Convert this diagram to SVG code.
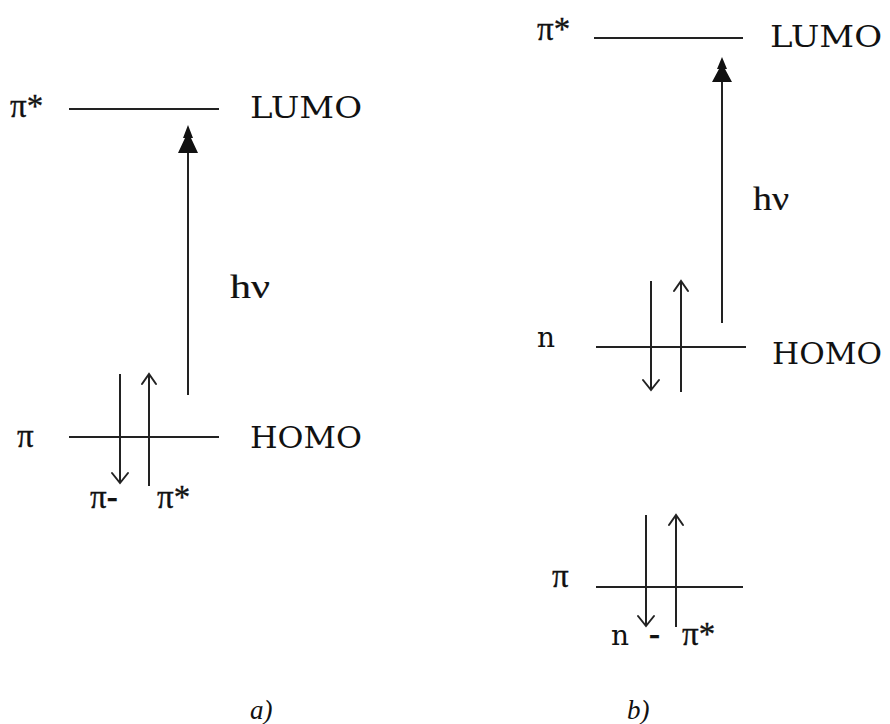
<svg xmlns="http://www.w3.org/2000/svg" width="890" height="724" viewBox="0 0 890 724">
<style>
text{font-family:"DejaVu Serif","Liberation Serif",serif;fill:#111}
.lbl{font-size:30px}
.sym{font-family:"Liberation Serif","DejaVu Serif",serif;font-size:33px;stroke:#111;stroke-width:0.3}
.nn{font-size:28px}
.hv{font-family:"Liberation Serif","DejaVu Serif",serif;font-size:34px;stroke:#111;stroke-width:0.2}
.cap{font-family:"Liberation Serif",serif;font-size:27px;font-style:italic}
.lvl{stroke:#222;stroke-width:2;fill:none}
.ar{stroke:#222;stroke-width:2;fill:none}
.oh{stroke:#222;stroke-width:2;fill:none;stroke-linecap:round;stroke-linejoin:miter}
.fh{fill:#111;stroke:none}
</style>
<rect width="890" height="724" fill="#fff"/>
<!-- Panel a -->
<g id="a-lumo">
<line class="lvl" x1="69" y1="109" x2="219" y2="109"/>
<text class="sym" x="10" y="117">π*</text>
<text class="lbl" x="250" y="118" textLength="112" lengthAdjust="spacingAndGlyphs">LUMO</text>
</g>
<g id="a-homo">
<line class="lvl" x1="69" y1="437" x2="219" y2="437"/>
<text class="sym" x="17" y="447">π</text>
<text class="lbl" x="250" y="448" textLength="112" lengthAdjust="spacingAndGlyphs">HOMO</text>
</g>
<g id="a-labels">
<text class="sym" x="90" y="508">π<tspan font-weight="bold">-</tspan></text>
<text class="sym" x="157" y="508">π*</text>
<text class="hv" x="230" y="298" textLength="40" lengthAdjust="spacingAndGlyphs">hν</text>
</g>
<!-- Panel b -->
<g id="b-lumo">
<line class="lvl" x1="594" y1="38" x2="743" y2="38"/>
<text class="sym" x="537" y="40">π*</text>
<text class="lbl" x="770" y="47" textLength="112" lengthAdjust="spacingAndGlyphs">LUMO</text>
</g>
<g id="b-homo">
<line class="lvl" x1="596" y1="347" x2="746" y2="347"/>
<text class="nn" x="537" y="347">n</text>
<text class="lbl" x="772" y="364" textLength="110" lengthAdjust="spacingAndGlyphs">HOMO</text>
</g>
<g id="b-pi">
<line class="lvl" x1="596" y1="587" x2="743" y2="587"/>
<text class="sym" x="552" y="587">π</text>
</g>
<g id="b-labels">
<text class="nn" x="611" y="645">n</text>
<text class="sym" x="649" y="645" font-weight="bold">-</text>
<text class="sym" x="682" y="645">π*</text>
<text class="hv" x="753" y="210" textLength="36" lengthAdjust="spacingAndGlyphs">hν</text>
</g>
<g id="captions">
<text class="cap" x="250" y="719">a)</text>
<text class="cap" x="627" y="719">b)</text>
</g>
<g id="connectors">
<!-- a: excitation arrow -->
<line class="ar" x1="188" y1="395" x2="188" y2="150"/>
<polygon class="fh" points="188,125 183,138 185,138 178,153 198,153 191,138 193,138"/>
<!-- a: spin arrows -->
<line class="ar" x1="120" y1="374" x2="120" y2="482"/>
<polyline class="oh" points="112,473 120,483 128,473"/>
<line class="ar" x1="149" y1="486" x2="149" y2="375"/>
<polyline class="oh" points="142,384 149,374 156,384"/>
<!-- b: excitation arrow -->
<line class="ar" x1="722" y1="323" x2="722" y2="78"/>
<polygon class="fh" points="722,57 717,69 719,69 712,82 732,82 725,69 727,69"/>
<!-- b: HOMO spin arrows -->
<line class="ar" x1="651" y1="281" x2="651" y2="389"/>
<polyline class="oh" points="643,380 651,390 659,380"/>
<line class="ar" x1="681" y1="392" x2="681" y2="282"/>
<polyline class="oh" points="674,291 681,281 688,291"/>
<!-- b: pi spin arrows -->
<line class="ar" x1="646" y1="515" x2="646" y2="625"/>
<polyline class="oh" points="638,616 646,626 654,616"/>
<line class="ar" x1="676" y1="627" x2="676" y2="516"/>
<polyline class="oh" points="669,525 676,515 683,525"/>
</g>
</svg>
